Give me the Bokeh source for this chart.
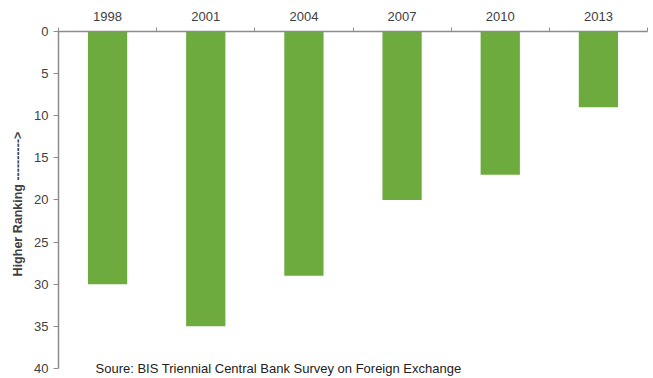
from bokeh.plotting import figure
from bokeh.models import Range1d, FixedTicker, LinearAxis, Label, ColumnDataSource
from bokeh.embed import file_html
from bokeh.resources import INLINE

years = ["1998", "2001", "2004", "2007", "2010", "2013"]
ranking = [30, 35, 29, 20, 17, 9]
y_ticks = [0, 5, 10, 15, 20, 25, 30, 35, 40]
source_note = "Soure: BIS Triennial Central Bank Survey on Foreign Exchange"
y_title = "Higher Ranking ---------->"

FONT = "Liberation Sans"
TXT = "#404040"
AX = "#8c8c8c"

xs = [i + 0.5 for i in range(len(years))]
src = ColumnDataSource(dict(x=xs, top=[0] * len(years), bottom=ranking))

p = figure(width=653, height=378, output_backend="svg", toolbar_location=None,
           x_range=Range1d(0, len(years)), y_range=Range1d(40.95, 0),
           x_axis_location=None, y_axis_location=None,
           min_border_left=58, min_border_right=6, min_border_top=31, min_border_bottom=2)
p.outline_line_color = None
p.grid.visible = False
p.background_fill_color = "white"
p.border_fill_color = "white"

p.vbar(x="x", top="top", bottom="bottom", width=0.4, source=src,
       fill_color="#6DAB3F", line_color=None)

# top category axis
top = LinearAxis(ticker=FixedTicker(ticks=xs, minor_ticks=list(range(len(years) + 1))))
top.major_label_overrides = {x: y for x, y in zip(xs, years)}
top.major_tick_out = 0
top.major_tick_in = 0
top.minor_tick_out = 4
top.minor_tick_in = 0
top.minor_tick_line_color = AX
top.axis_line_color = AX
top.axis_line_width = 1.5
top.major_label_text_font = FONT
top.major_label_text_font_size = "13px"
top.major_label_text_color = TXT
top.major_label_standoff = 7
p.add_layout(top, "above")

left = LinearAxis(ticker=FixedTicker(ticks=y_ticks), bounds=(0, 40))
left.major_tick_out = 5
left.major_tick_in = 0
left.minor_tick_out = 0
left.minor_tick_in = 0
left.major_tick_line_color = AX
left.axis_line_color = AX
left.axis_line_width = 1.5
left.major_label_text_font = FONT
left.major_label_text_font_size = "13px"
left.major_label_text_color = TXT
left.major_label_standoff = 5
left.axis_label = y_title
left.axis_label_text_font = FONT
left.axis_label_text_font_style = "bold"
left.axis_label_text_font_size = "12.5px"
left.axis_label_text_color = TXT
left.axis_label_standoff = 6
p.add_layout(left, "left")

p.add_layout(Label(x=0.377, y=40.05, text=source_note, text_font=FONT,
                   text_font_size="13px", text_color="#222222",
                   text_baseline="middle", text_align="left"))

open("out.html", "w").write(file_html(p, INLINE))
